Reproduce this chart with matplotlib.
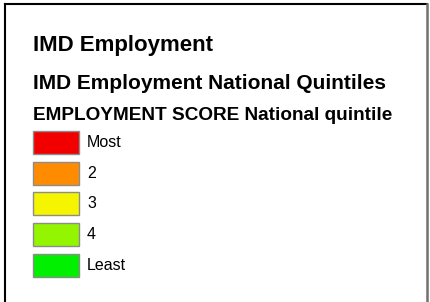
import matplotlib.pyplot as plt
from matplotlib.patches import Rectangle

# legend contents
titles = ["IMD Employment", "IMD Employment National Quintiles",
          "EMPLOYMENT SCORE National quintile"]
labels = ["Most", "2", "3", "4", "Least"]
colors = ["#f20000", "#ff8c00", "#f5f500", "#94f500", "#00f000"]

plt.rcParams['font.family'] = ['Liberation Sans', 'DejaVu Sans']

W, H = 430, 302
fig = plt.figure(figsize=(W / 100, H / 100), dpi=100)
ax = fig.add_axes([0, 0, 1, 1])
ax.set_xlim(0, W)
ax.set_ylim(H, 0)
ax.axis("off")

# frame: black top and left, grey right
ax.plot([5, 427], [3.5, 3.5], color="black", lw=1.5)
ax.plot([5, 5], [3.5, H], color="black", lw=1.5)
ax.plot([426.5, 426.5], [3.5, H], color="#707070", lw=1.8)

# headings
ax.text(33, 51, titles[0], fontsize=16, fontweight="bold", va="baseline")
ax.text(33, 89, titles[1], fontsize=15, fontweight="bold", va="baseline")
ax.text(33, 120, titles[2], fontsize=13.7, fontweight="bold", va="baseline")

# colour boxes
top0, step = 131, 30.7
for i, (lab, c) in enumerate(zip(labels, colors)):
    y = top0 + i * step
    ax.add_patch(Rectangle((33, y), 46, 23, facecolor=c, edgecolor="#8c8c8c", lw=1))
    ax.text(87, y + 11.5, lab, fontsize=11.5, va="center")

fig.savefig("out.png", dpi=100)
